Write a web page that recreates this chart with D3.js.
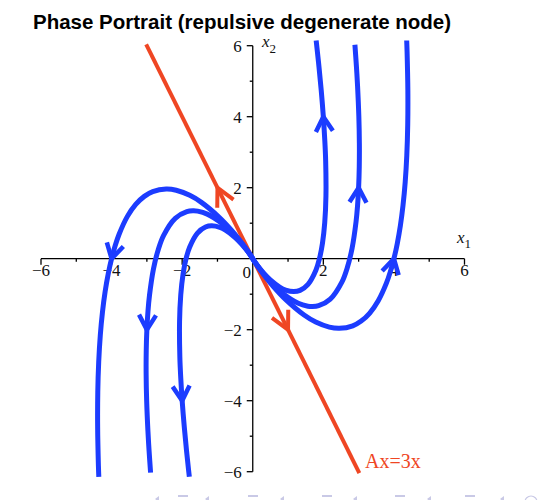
<!DOCTYPE html>
<html>
<head>
<meta charset="utf-8">
<script src="https://cdn.jsdelivr.net/npm/d3@7"></script>
<style>
  html, body { margin: 0; padding: 0; background: #fff; }
  svg { display: block; }
</style>
</head>
<body>
<svg id="chart" width="544" height="500"></svg>
<script>
// ---- data ----
const titleText = "Phase Portrait (repulsive degenerate node)";
const xTickLabels = [-6, -4, -2, 2, 4, 6];
const yTickLabels = [-6, -4, -2, 2, 4, 6];
const minorTicks = [-5, -3, -1, 1, 3, 5];

// trajectories (x1, x2)
const curveR1 = [[0,0],[0.013,-0.022],[0.050,-0.079],[0.178,-0.267],[0.372,-0.525],[0.597,-0.797],[0.944,-1.161],[1.455,-1.587],[1.785,-1.785],[2.169,-1.928],[2.453,-1.962],[2.834,-1.890],[3.073,-1.756],[3.316,-1.530],[3.556,-1.185],[3.787,-0.689],[3.897,-0.371],[4,0],[4.096,0.431],[4.183,0.930],[4.258,1.503],[4.320,2.160],[4.365,2.910],[4.391,3.764],[4.395,4.733],[4.373,5.831],[4.362,6.147]];
const curveR2 = [[0,0],[0.013,-0.021],[0.047,-0.074],[0.167,-0.244],[0.344,-0.470],[0.548,-0.697],[0.853,-0.980],[1.289,-1.256],[1.562,-1.339],[1.686,-1.349],[1.867,-1.325],[2.196,-1.138],[2.525,-0.659],[2.678,-0.255],[2.815,0.296],[2.926,1.033],[2.969,1.484],[3,2],[3.018,2.587],[3.021,3.253],[3.006,4.007],[2.970,4.860],[2.937,5.422],[2.895,6.026]];
const curveR3 = [[0,0],[0.012,-0.020],[0.045,-0.069],[0.156,-0.222],[0.317,-0.415],[0.498,-0.597],[0.762,-0.798],[0.931,-0.882],[1.159,-0.927],[1.339,-0.893],[1.566,-0.723],[1.789,-0.325],[1.890,0],[1.976,0.439],[2.040,1.020],[2.074,1.778],[2.066,2.754],[2.041,3.340],[2,4],[1.940,4.743],[1.877,5.402],[1.820,5.938],[1.797,6.144]];
const curveL1 = [[0,0],[-0.013,0.022],[-0.050,0.079],[-0.178,0.267],[-0.372,0.525],[-0.597,0.797],[-0.944,1.161],[-1.455,1.587],[-1.785,1.785],[-2.169,1.928],[-2.453,1.962],[-2.834,1.890],[-3.073,1.756],[-3.316,1.530],[-3.556,1.185],[-3.787,0.689],[-3.897,0.371],[-4,0],[-4.096,-0.431],[-4.183,-0.930],[-4.258,-1.503],[-4.320,-2.160],[-4.365,-2.910],[-4.391,-3.764],[-4.395,-4.733],[-4.373,-5.831],[-4.362,-6.147]];
const curveL2 = [[0,0],[-0.013,0.021],[-0.047,0.074],[-0.167,0.244],[-0.344,0.470],[-0.548,0.697],[-0.853,0.980],[-1.289,1.256],[-1.562,1.339],[-1.686,1.349],[-1.867,1.325],[-2.196,1.138],[-2.525,0.659],[-2.678,0.255],[-2.815,-0.296],[-2.926,-1.033],[-2.969,-1.484],[-3,-2],[-3.018,-2.587],[-3.021,-3.253],[-3.006,-4.007],[-2.970,-4.860],[-2.937,-5.422],[-2.895,-6.026]];
const curveL3 = [[0,0],[-0.012,0.020],[-0.045,0.069],[-0.156,0.222],[-0.317,0.415],[-0.498,0.597],[-0.762,0.798],[-0.931,0.882],[-1.159,0.927],[-1.339,0.893],[-1.566,0.723],[-1.789,0.325],[-1.890,0],[-1.976,-0.439],[-2.040,-1.020],[-2.074,-1.778],[-2.066,-2.754],[-2.041,-3.340],[-2,-4],[-1.940,-4.743],[-1.877,-5.402],[-1.820,-5.938],[-1.797,-6.144]];
const curves = [curveR1, curveR2, curveR3, curveL1, curveL2, curveL3];
// arrowhead locations on each trajectory
const arrowPoints = [[4,0],[3,2],[2,4],[-4,0],[-3,-2],[-2,-4]];

// eigenvector line Ax=3x
const eigenLine = [[-3.02, 6.04], [3.02, -6.04]];
const eigenArrows = [{at: [-1, 2], dir: [-1, 2]}, {at: [1, -2], dir: [1, -2]}];
const eigenLabel = "Ax=3x";

// ---- drawing ----
const svg = d3.select("#chart");
const x = d3.scaleLinear().domain([-6, 6]).range([41, 464.5]);
const y = d3.scaleLinear().domain([-6, 6]).range([471.7, 45.7]);

const BLUE = "#1c3cff";
const RED = "#ef4623";
const serif = "'Liberation Serif','Times New Roman',Times,serif";

// title
svg.append("text")
  .attr("x", 33).attr("y", 28.5)
  .attr("font-family", "'Liberation Sans',Arial,Helvetica,sans-serif")
  .attr("font-weight", "bold").attr("font-size", 20.5)
  .attr("fill", "#000")
  .text(titleText);

// axes
const ax = svg.append("g").attr("stroke", "#000").attr("stroke-width", 1.3);
ax.append("line").attr("x1", x(-6)).attr("x2", x(6)).attr("y1", y(0)).attr("y2", y(0));
ax.append("line").attr("x1", x(0)).attr("x2", x(0)).attr("y1", y(-6)).attr("y2", y(6));
xTickLabels.forEach(v => ax.append("line").attr("x1", x(v)).attr("x2", x(v)).attr("y1", y(0)).attr("y2", y(0) + 6));
minorTicks.forEach(v => ax.append("line").attr("x1", x(v)).attr("x2", x(v)).attr("y1", y(0)).attr("y2", y(0) + 3));
yTickLabels.forEach(v => ax.append("line").attr("x1", x(0)).attr("x2", x(0) - 6).attr("y1", y(v)).attr("y2", y(v)));
minorTicks.forEach(v => ax.append("line").attr("x1", x(0)).attr("x2", x(0) - 3).attr("y1", y(v)).attr("y2", y(v)));

const fmt = v => (v < 0 ? "\u2212" + Math.abs(v) : String(v));
const labels = svg.append("g").attr("font-family", serif).attr("font-size", 17).attr("fill", "#111");
xTickLabels.forEach(v => labels.append("text")
  .attr("x", x(v)).attr("y", y(0) + 17).attr("text-anchor", "middle").text(fmt(v)));
yTickLabels.forEach(v => labels.append("text")
  .attr("x", x(0) - 11).attr("y", y(v) + 6).attr("text-anchor", "end").text(fmt(v)));
labels.append("text").attr("x", x(0) - 6).attr("y", y(0) + 19).attr("text-anchor", "middle").text("0");

// axis names
const n1 = labels.append("text").attr("x", 457).attr("y", 243).attr("font-style", "italic");
n1.append("tspan").text("x");
n1.append("tspan").attr("font-style", "normal").attr("font-size", 13).attr("dy", 5).text("1");
const n2 = labels.append("text").attr("x", 262).attr("y", 47).attr("font-style", "italic");
n2.append("tspan").text("x");
n2.append("tspan").attr("font-style", "normal").attr("font-size", 13).attr("dy", 6).text("2");

// eigen line
const line = d3.line().x(d => x(d[0])).y(d => y(d[1]));
svg.append("path").datum(eigenLine).attr("d", line)
  .attr("fill", "none").attr("stroke", RED).attr("stroke-width", 4);

// trajectories
const smooth = d3.line().x(d => x(d[0])).y(d => y(d[1])).curve(d3.curveCatmullRom.alpha(0.5));
const gCurves = svg.append("g");
curves.forEach(c => gCurves.append("path").datum(c).attr("d", smooth)
  .attr("fill", "none").attr("stroke", BLUE).attr("stroke-width", 5).attr("stroke-linejoin", "round"));

function arrowHead(g, tip, dx, dy, len, ang, color, w) {
  const n = Math.hypot(dx, dy);
  const bx = -dx / n, by = -dy / n;
  const a = ang * Math.PI / 180;
  const pts = [a, -a].map(t => [tip[0] + len * (bx * Math.cos(t) - by * Math.sin(t)),
                                 tip[1] + len * (bx * Math.sin(t) + by * Math.cos(t))]);
  g.append("path")
    .attr("d", `M${pts[0][0]},${pts[0][1]}L${tip[0]},${tip[1]}L${pts[1][0]},${pts[1][1]}`)
    .attr("fill", "none").attr("stroke", color).attr("stroke-width", w)
    .attr("stroke-linejoin", "miter").attr("stroke-linecap", "butt");
}

// blue arrowheads: direction from neighbouring trajectory points
arrowPoints.forEach((p, i) => {
  const c = curves[i];
  const k = c.findIndex(q => q[0] === p[0] && q[1] === p[1]);
  const a = c[k - 1], b = c[k + 1];
  const dx = x(b[0]) - x(a[0]), dy = y(b[1]) - y(a[1]);
  arrowHead(gCurves, [x(p[0]), y(p[1])], dx, dy, 17, 30, BLUE, 4.5);
});

// red arrowheads
eigenArrows.forEach(e => {
  const dx = x(e.dir[0]) - x(0), dy = y(e.dir[1]) - y(0);
  arrowHead(svg, [x(e.at[0]), y(e.at[1])], dx, dy, 20, 27, RED, 4);
});

// label of eigen line
svg.append("text").attr("x", 365).attr("y", 468)
  .attr("font-family", serif).attr("font-size", 20).attr("fill", RED)
  .text(eigenLabel);

// faint navigation symbols at the bottom edge (partially cut off)
const nav = svg.append("g").attr("fill", "#c9c9e6").attr("stroke", "#c9c9e6");
const navX = [155, 183, 205, 253, 280, 327, 353, 400, 427, 470, 500];
navX.forEach((nx, i) => {
  if (i % 2 === 0) nav.append("path").attr("d", `M${nx},499 l4,-3 l0,6z`).attr("stroke", "none");
  else nav.append("rect").attr("x", nx - 5).attr("y", 495).attr("width", 10).attr("height", 2).attr("stroke", "none");
});
nav.append("circle").attr("cx", 531).attr("cy", 502).attr("r", 6).attr("fill", "none").attr("stroke-width", 1.2);
</script>
</body>
</html>
